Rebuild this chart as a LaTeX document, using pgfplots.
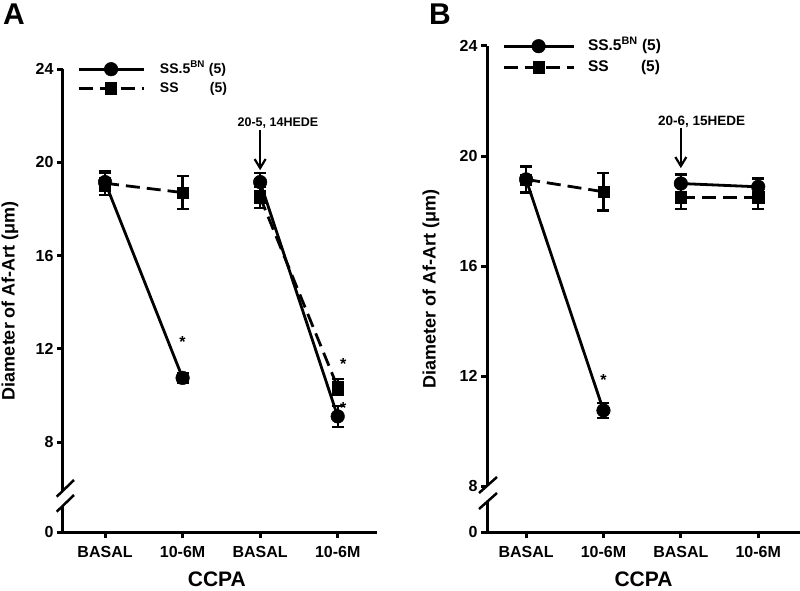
\documentclass[border=0pt]{standalone}
\usepackage{pgfplots}
\pgfplotsset{compat=1.18}
\usepackage{fontspec}
\setmainfont{Liberation Sans}
\usetikzlibrary{arrows.meta}

\pgfplotsset{
  panel/.style={
    scale only axis,
    anchor=south west,
    axis lines=left,
    axis line style={-, line width=3pt},
    tick style={line width=3pt, black},
    major tick length=6pt,
    tick align=outside,
    xtick={1,2,3,4},
    xticklabels={BASAL,10-6M,BASAL,10-6M},
    ymax=24,
    clip=false,
    yticklabel style={font=\fontsize{16}{18}\selectfont\bfseries},
    xticklabel style={font=\fontsize{16}{18}\selectfont\bfseries, yshift=-5pt},
    xlabel={CCPA},
    ylabel={Diameter of Af-Art (μm)},
    every axis x label/.style={font=\fontsize{21}{24}\selectfont\bfseries, anchor=center, inner sep=0pt},
    every axis y label/.style={font=\fontsize{18}{20}\selectfont\bfseries, anchor=center, rotate=90, inner sep=0pt},
    legend style={draw=none, fill=none, inner sep=0pt, row sep=0pt,
      at={(axis description cs:0,1)}, anchor=north west,
      nodes={inner xsep=0pt}},
    legend cell align=left,
  },
  legA/.style={
    legend style={xshift=14pt, yshift=9.5pt,
      font=\fontsize{14}{16}\selectfont\bfseries,
      nodes={inner ysep=3pt, text height=10.5pt, text depth=2.5pt},
      /tikz/every odd column/.append style={column sep=15pt}},
    legend image code/.code={
      \draw[mark repeat=2, mark phase=2, #1] plot coordinates {(0pt,0pt) (32.5pt,0pt) (65pt,0pt)};
    },
  },
  legB/.style={
    legend style={xshift=15pt, yshift=10.5pt,
      font=\fontsize{15.5}{17}\selectfont\bfseries,
      nodes={inner ysep=3pt, text height=11.5pt, text depth=3.5pt},
      /tikz/every odd column/.append style={column sep=13pt}},
    legend image code/.code={
      \draw[mark repeat=2, mark phase=2, #1] plot coordinates {(0pt,0pt) (35pt,0pt) (70pt,0pt)};
    },
  },
  errs/.style={
    error bars/y dir=both, error bars/y explicit,
    error bars/error bar style={line width=2.2pt, solid},
    error bars/error mark options={rotate=90, mark size=6pt, line width=2.2pt, solid}},
  bn/.style={black, solid, line width=2.8pt, mark=*, mark size=6.8pt,
    mark options={solid, line width=0.5pt}, errs},
  ss/.style={black, dash pattern=on 14pt off 7pt, line width=2.8pt, mark=square*, mark size=5.6pt,
    mark options={solid, line width=0.5pt}, errs},
}

\begin{document}
\begin{tikzpicture}
\path[use as bounding box] (0pt,0pt) rectangle (800pt,-591pt);

% ---------------- Panel A ----------------
\begin{axis}[panel, legA,
  at={(63pt,-532pt)}, width=314pt, height=463pt,
  xmin=0.458, xmax=4.507, ymin=4.14,
  ytick={4.14,8,12,16,20,24}, yticklabels={0,8,12,16,20,24},
  xlabel style={at={(axis description cs:0.49,-0.103)}},
  ylabel style={at={(axis description cs:-0.169,0.5)}},
]
\addplot[bn] coordinates {(1,19.15) +- (0,0.4) (2,10.75) +- (0,0.2)};
\addlegendentry{SS.5\textsuperscript{BN} (5)}
\addplot[ss] coordinates {(1,19.1) +- (0,0.5) (2,18.7) +- (0,0.7)};
\addlegendentry{\makebox[50pt][l]{SS}(5)}
\addplot[bn, forget plot] coordinates {(3,19.15) +- (0,0.4) (4,9.1) +- (0,0.45)};
\addplot[ss, forget plot] coordinates {(3,18.5) +- (0,0.45) (4,10.35) +- (0,0.35)};
\node[font=\fontsize{16}{18}\selectfont\bfseries] at (axis cs:2,12.3) {*};
\node[font=\fontsize{16}{18}\selectfont\bfseries] at (axis cs:4.07,11.35) {*};
\node[font=\fontsize{16}{18}\selectfont\bfseries] at (axis cs:4.07,9.45) {*};
\node[font=\fontsize{12.5}{14}\selectfont\bfseries] at (axis cs:3.23,21.67) {20-5, 14HEDE};
\draw[line width=2.2pt, -{Straight Barb[length=9pt,width=11pt]}] (axis cs:3,21.37) -- (axis cs:3,19.66);
\end{axis}

% axis break A
\fill[white] (56.7pt,-496.7pt) -- (74pt,-480pt) -- (74pt,-495pt) -- (56.7pt,-511.7pt) -- cycle;
\draw[line width=2.5pt] (56.7pt,-496.7pt) -- (74pt,-480pt);
\draw[line width=2.5pt] (56.7pt,-511.7pt) -- (74pt,-495pt);

% ---------------- Panel B ----------------
\begin{axis}[panel, legB,
  at={(487pt,-532pt)}, width=313pt, height=486pt,
  xmin=0.495, xmax=4.54, ymin=6.33,
  ytick={6.33,8,12,16,20,24}, yticklabels={0,8,12,16,20,24},
  xlabel style={at={(axis description cs:0.5,-0.098)}},
  ylabel style={at={(axis description cs:-0.179,0.5)}},
]
\addplot[bn] coordinates {(1,19.15) +- (0,0.45) (2,10.75) +- (0,0.27)};
\addlegendentry{SS.5\textsuperscript{BN} (5)}
\addplot[ss] coordinates {(1,19.15) +- (0,0.5) (2,18.7) +- (0,0.68)};
\addlegendentry{\makebox[53pt][l]{SS}(5)}
\addplot[bn, forget plot] coordinates {(3,19.0) +- (0,0.33) (4,18.88) +- (0,0.3)};
\addplot[ss, forget plot] coordinates {(3,18.5) +- (0,0.43) (4,18.5) +- (0,0.43)};
\node[font=\fontsize{16}{18}\selectfont\bfseries] at (axis cs:2,11.85) {*};
\node[font=\fontsize{13.5}{15}\selectfont\bfseries] at (axis cs:3.27,21.24) {20-6, 15HEDE};
\draw[line width=2.2pt, -{Straight Barb[length=9pt,width=11pt]}] (axis cs:3,21.02) -- (axis cs:3,19.56);
\end{axis}

% axis break B
\fill[white] (479pt,-493pt) -- (497pt,-477pt) -- (497pt,-493pt) -- (479pt,-509pt) -- cycle;
\draw[line width=2.5pt] (479pt,-493pt) -- (497pt,-477pt);
\draw[line width=2.5pt] (479pt,-509pt) -- (497pt,-493pt);

% panel letters
\node[anchor=north west, inner sep=0pt, font=\fontsize{30}{33}\selectfont\bfseries] at (3pt,-4pt) {A};
\node[anchor=north west, inner sep=0pt, font=\fontsize{30}{33}\selectfont\bfseries] at (429pt,-4pt) {B};
\end{tikzpicture}
\end{document}
